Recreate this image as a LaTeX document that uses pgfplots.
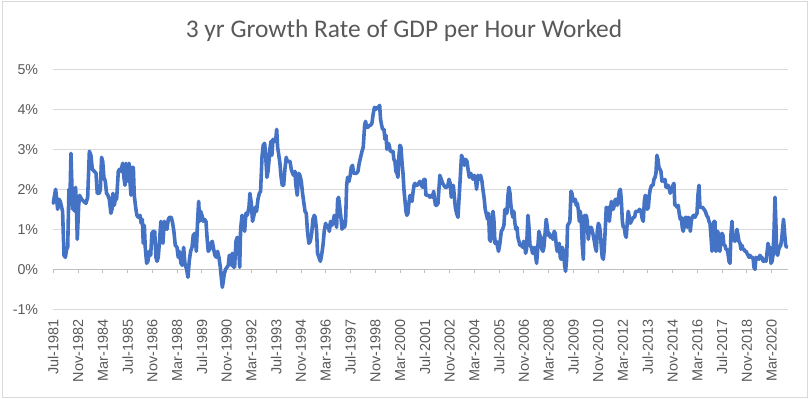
\documentclass[border=0pt]{standalone}
\usepackage{pgfplots}
\pgfplotsset{compat=1.18}
\usepackage{fontspec}
\setmainfont{Liberation Sans}
\newfontfamily\titlefont{Carlito}
\definecolor{linecol}{HTML}{4472C4}
\definecolor{gridcol}{HTML}{D9D9D9}
\definecolor{axcol}{HTML}{BFBFBF}
\definecolor{txtcol}{HTML}{595959}
\pgfplotstableread{
x y
0.0 1.65
0.6 1.8
1.5 2.0
2.2 1.75
2.8 1.5
3.7 1.75
4.5 1.7
5.4 1.55
6.0 1.45
6.9 0.35
7.8 0.3
8.6 0.5
9.3 0.55
10.1 2.0
10.8 1.85
11.4 2.9
12.1 2.0
12.5 1.5
13.1 2.0
13.8 1.45
14.4 2.05
14.9 1.6
15.5 0.75
16.4 1.6
17.0 1.85
18.3 1.75
19.6 1.7
21.1 1.65
22.2 1.8
23.3 2.95
24.3 2.85
25.2 2.5
26.5 2.45
27.6 2.4
28.4 1.9
29.7 1.9
30.4 2.0
31.2 2.8
31.9 2.7
32.7 2.3
33.6 2.2
34.4 1.9
35.3 1.85
36.2 1.75
37.2 1.4
37.9 1.5
38.5 1.9
39.4 1.6
40.3 1.8
40.9 1.75
42.0 2.45
42.8 2.5
43.7 2.45
44.8 2.65
45.6 2.3
46.3 2.1
46.9 2.65
47.6 2.4
48.2 2.2
48.9 2.65
49.5 2.2
50.2 1.85
50.8 2.55
51.7 2.55
52.3 1.85
53.2 1.55
54.0 1.35
54.9 1.3
56.0 1.35
56.8 1.15
57.5 1.25
58.1 0.65
58.8 1.1
59.4 0.55
60.3 0.15
61.1 0.2
62.0 0.45
62.9 0.35
63.7 0.9
64.6 0.95
65.5 0.95
66.3 0.3
67.0 0.2
67.8 0.3
68.5 0.65
69.5 1.2
70.2 0.9
70.8 0.65
71.7 1.2
72.6 1.05
73.4 1.0
74.3 1.25
75.1 1.3
76.2 1.3
77.1 1.15
77.9 0.95
78.8 0.6
79.9 0.55
80.7 0.3
81.4 0.45
82.5 0.15
83.3 0.1
84.2 0.55
85.0 0.15
86.1 0.0
87.0 -0.2
87.8 0.2
88.7 0.45
89.6 0.55
90.4 0.85
91.5 0.9
92.4 0.45
93.2 1.2
93.9 1.7
94.5 1.2
95.2 1.45
96.0 1.35
96.9 1.2
97.7 1.25
98.6 1.2
99.5 0.7
100.1 0.45
101.0 0.5
101.8 0.65
102.7 0.7
103.6 0.5
104.4 0.35
105.3 0.3
106.1 0.45
107.0 0.3
107.9 0.05
108.5 -0.2
109.2 -0.45
109.8 -0.3
110.5 -0.1
111.3 0.0
112.2 0.05
113.0 0.1
113.7 0.35
114.3 0.2
115.0 0.1
115.6 0.4
116.5 0.05
117.1 0.05
118.0 0.7
118.8 0.8
119.7 0.6
120.4 0.05
121.0 1.0
121.9 1.35
122.7 1.2
123.6 0.95
124.4 1.4
125.3 1.35
126.4 1.55
127.0 1.9
127.9 1.65
128.7 1.2
129.6 1.35
130.5 1.55
131.3 1.45
132.2 1.75
133.1 1.9
133.9 1.95
134.8 2.8
135.6 3.1
136.5 3.15
137.1 2.9
138.0 2.3
138.7 2.45
139.3 2.7
139.9 3.0
140.6 3.2
141.2 2.85
141.9 3.25
142.7 3.2
143.6 3.2
144.3 3.5
144.9 3.05
145.5 2.9
146.4 2.65
147.0 2.35
147.9 2.1
148.8 2.1
149.6 2.5
150.5 2.8
151.1 2.7
152.0 2.7
152.9 2.7
153.7 2.5
154.6 2.4
155.2 2.35
156.1 2.45
156.7 2.1
157.6 1.85
158.5 2.4
159.3 2.35
160.2 2.2
161.0 1.9
161.9 1.65
162.6 1.45
163.4 1.4
164.3 0.9
165.1 0.65
166.0 0.7
166.9 0.9
167.7 1.25
168.6 1.35
169.2 1.3
170.1 0.95
170.7 0.4
171.6 0.3
172.5 0.2
173.3 0.35
174.2 0.6
175.0 0.95
175.9 1.15
176.8 1.05
177.6 1.1
178.3 0.95
179.1 1.2
180.0 1.1
180.9 1.2
181.5 1.35
182.1 1.3
183.0 1.05
183.7 1.75
184.3 1.8
185.2 1.5
185.8 1.3
186.5 1.0
187.3 1.2
188.2 1.05
188.8 1.2
189.5 2.1
190.1 2.3
191.0 2.2
191.8 2.35
192.5 2.55
193.3 2.6
194.0 2.4
194.8 2.4
195.9 2.4
196.8 2.45
197.6 2.65
198.5 2.8
199.4 2.95
200.2 3.05
201.1 3.6
201.7 3.7
202.4 3.55
203.2 3.55
204.1 3.6
205.0 3.6
205.8 3.65
206.7 3.9
207.5 4.05
208.4 4.0
209.3 4.05
210.1 4.05
210.8 4.1
211.4 3.75
212.1 3.6
212.7 3.5
213.6 3.5
214.2 3.25
214.9 3.35
215.5 3.0
216.4 3.15
217.0 3.1
217.7 2.95
218.5 2.95
219.4 2.95
220.0 2.75
220.7 2.7
221.3 2.45
222.0 2.4
222.6 2.3
223.3 2.85
223.9 3.1
224.6 3.05
225.2 2.7
225.9 2.4
226.5 2.0
227.1 1.75
227.8 1.45
228.4 1.35
229.1 1.4
229.7 1.65
230.4 1.85
231.0 1.75
231.7 1.7
232.3 1.9
233.0 2.1
233.6 2.15
234.2 2.1
235.1 2.1
236.0 2.15
236.8 2.2
237.7 2.1
238.6 2.05
239.4 2.25
240.1 2.25
240.7 1.85
241.6 1.85
242.4 1.85
243.3 1.8
244.2 1.85
245.0 1.8
245.7 1.95
246.3 1.75
246.9 1.6
247.6 1.6
248.5 1.65
249.1 2.0
249.7 2.35
250.6 2.25
251.5 2.15
252.3 2.1
253.2 2.05
254.1 2.05
254.9 2.1
255.6 2.25
256.4 2.15
257.1 1.8
257.7 1.9
258.4 2.1
259.0 1.85
259.7 1.55
260.5 1.4
261.4 1.3
262.0 1.7
262.9 2.3
263.7 2.85
264.6 2.75
265.5 2.6
266.3 2.75
267.2 2.7
268.1 2.45
268.7 2.3
269.6 2.4
270.2 2.35
271.1 2.25
271.9 2.35
272.8 2.25
273.4 2.0
274.3 2.35
275.2 2.25
276.0 2.35
276.9 2.2
277.5 2.0
278.4 1.75
279.0 1.5
279.9 1.35
280.5 1.25
281.2 1.4
281.8 0.75
282.5 0.7
283.1 1.0
284.0 1.45
284.6 1.25
285.3 0.65
286.2 0.7
286.8 0.6
287.6 0.45
288.5 0.65
289.4 0.95
290.2 1.0
291.1 1.1
291.7 1.5
292.4 1.5
293.0 1.4
293.7 1.85
294.3 2.05
295.0 1.9
295.6 1.6
296.3 1.4
296.9 1.3
297.5 1.45
298.2 1.15
298.8 1.0
299.5 1.05
300.1 0.8
300.8 0.7
301.4 0.6
302.3 0.6
303.2 0.55
303.8 0.7
304.4 0.65
305.1 0.4
305.7 0.5
306.6 1.35
307.2 1.1
307.9 0.6
308.8 0.55
309.6 0.4
310.3 0.5
310.9 0.55
311.5 0.35
312.2 0.15
312.8 0.45
313.7 0.95
314.3 0.85
315.0 0.8
315.6 0.5
316.3 0.45
316.9 0.55
317.8 0.95
318.4 1.25
319.1 1.05
319.7 0.85
320.4 0.9
321.0 0.8
321.9 0.85
322.7 0.75
323.6 0.95
324.2 0.9
324.9 0.6
325.5 0.45
326.2 0.55
326.8 0.65
327.5 0.3
328.1 0.25
328.8 0.55
329.6 0.45
330.3 0.1
330.9 -0.05
331.6 0.25
332.2 1.1
333.1 1.15
333.7 1.2
334.4 1.95
335.0 1.9
335.7 1.75
336.3 1.7
337.2 1.75
337.8 1.6
338.5 1.65
339.1 1.5
339.8 1.2
340.4 1.45
341.1 1.2
341.7 0.6
342.4 0.25
343.0 1.35
343.7 0.95
344.3 1.35
344.9 1.2
345.6 0.75
346.2 0.95
346.9 1.05
347.5 1.05
348.2 0.95
348.8 0.85
349.5 0.7
350.1 0.55
350.8 0.45
351.4 0.95
352.1 1.15
352.7 1.1
353.3 0.95
354.0 0.55
354.6 0.3
355.3 0.25
355.9 0.5
356.6 1.05
357.2 1.55
357.9 1.5
358.5 1.55
359.2 1.2
359.8 1.45
360.5 1.7
361.1 1.5
361.7 1.5
362.4 1.6
363.0 1.75
363.7 1.75
364.3 1.6
365.0 1.75
365.6 1.95
366.3 2.0
366.9 1.75
367.6 1.2
368.2 1.05
368.9 1.05
369.5 0.85
370.1 0.8
370.8 1.2
371.4 1.45
372.1 1.3
372.7 1.15
373.4 1.2
374.0 1.25
374.7 1.3
375.5 1.3
376.2 1.45
377.0 1.45
377.9 1.45
378.7 1.5
379.6 1.45
380.5 1.25
381.1 1.2
381.8 1.7
382.4 1.85
383.1 1.8
383.7 1.5
384.4 1.55
385.0 1.85
385.6 2.0
386.5 2.1
387.4 2.1
388.0 2.25
388.7 2.3
389.3 2.4
389.9 2.85
390.6 2.75
391.2 2.55
392.5 2.45
393.2 2.2
393.8 2.25
394.5 2.2
395.1 2.25
395.8 2.05
396.4 2.05
397.1 2.1
397.7 2.05
398.5 1.9
399.4 2.0
400.3 2.1
400.9 2.15
401.5 1.6
402.2 1.6
403.0 1.55
403.7 1.6
404.3 1.4
405.0 1.25
405.6 1.3
406.3 1.05
406.9 0.95
407.6 1.1
408.2 1.3
408.9 1.3
409.5 1.05
410.2 1.3
410.8 1.25
411.5 0.95
412.1 1.2
412.7 1.3
413.6 1.35
414.5 1.3
415.1 1.35
415.8 1.4
416.4 1.85
417.1 2.1
417.7 1.55
418.6 1.55
419.4 1.55
420.3 1.5
421.2 1.45
422.0 1.35
422.9 1.3
423.5 1.2
424.2 1.15
424.8 0.85
425.5 0.45
426.1 0.8
426.8 1.2
427.4 1.2
428.0 0.45
428.7 0.5
429.3 0.95
430.0 0.5
430.6 0.45
431.3 0.75
431.9 0.9
432.6 0.85
433.2 0.6
433.9 0.6
434.5 0.5
435.2 0.5
435.8 0.4
436.5 0.2
437.1 0.15
437.8 0.9
438.4 1.2
439.0 0.75
439.7 0.75
440.3 0.7
441.0 0.75
441.6 1.0
442.3 0.85
442.9 0.7
443.6 0.65
444.2 0.5
444.9 0.6
445.5 0.5
446.2 0.5
446.8 0.45
447.5 0.45
448.1 0.4
448.8 0.35
449.4 0.3
450.0 0.35
450.7 0.3
451.3 0.3
452.0 0.3
452.6 0.05
453.3 0.0
453.9 0.3
454.6 0.25
455.2 0.3
455.9 0.25
456.5 0.35
457.2 0.3
457.8 0.3
458.5 0.2
459.1 0.2
459.7 0.25
460.4 0.2
461.0 0.4
461.7 0.65
462.3 0.5
463.0 0.55
463.6 0.15
464.3 0.2
464.9 0.35
465.6 1.0
466.2 1.8
466.9 1.0
467.3 0.4
467.9 0.35
468.6 0.5
469.2 0.55
469.9 0.6
470.5 0.75
471.1 1.0
471.7 1.25
472.4 0.9
473.1 0.6
473.7 0.55
}\gdpdata
\begin{document}
\begin{tikzpicture}
\useasboundingbox (-53.3bp,-89.7bp) rectangle (755.7bp,309.3bp);
\draw[gridcol, line width=0.8bp] (-51.3bp,-88.2bp) rectangle (753.7bp,308.3bp);
\begin{axis}[
  at={(0,0)}, anchor=south west,
  scale only axis, width=734.4bp, height=240bp,
  xmin=0, xmax=474.4, ymin=-1, ymax=5,
  axis line style={draw=none},
  xtick={0,16,...,464},
  xticklabels={Jul-1981,Nov-1982,Mar-1984,Jul-1985,Nov-1986,Mar-1988,Jul-1989,Nov-1990,Mar-1992,Jul-1993,Nov-1994,Mar-1996,Jul-1997,Nov-1998,Mar-2000,Jul-2001,Nov-2002,Mar-2004,Jul-2005,Nov-2006,Mar-2008,Jul-2009,Nov-2010,Mar-2012,Jul-2013,Nov-2014,Mar-2016,Jul-2017,Nov-2018,Mar-2020},
  ytick={-1,0,...,5},
  yticklabels={-1\%,0\%,1\%,2\%,3\%,4\%,5\%},
  xtick style={draw=none}, ytick style={draw=none},
  ymajorgrids, major grid style={gridcol, line width=0.9bp},
  xticklabel shift=10bp, yticklabel shift=15bp,
  x tick label style={rotate=90, anchor=east, inner sep=0pt, font=\fontsize{14.5}{16}\selectfont, text=txtcol},
  y tick label style={anchor=east, inner sep=0pt, font=\fontsize{14.3}{16}\selectfont, text=txtcol},
  clip=false,
]
\draw[axcol, line width=0.9bp] (axis cs:0,0) -- (axis cs:474.4,0);
\pgfplotsinvokeforeach{0,16,...,464}{\draw[axcol, line width=0.9bp] (axis cs:#1,0) -- ([yshift=-4bp]axis cs:#1,0);}
\addplot[linecol, line width=3.6bp, line join=round, line cap=round, mark=none] table[x=x, y=y] {\gdpdata};
\end{axis}
\node[anchor=base, text=txtcol, font=\titlefont\fontsize{25.5}{28}\selectfont, inner sep=0pt] at (350.7bp,271.3bp) {3 yr Growth Rate of GDP per Hour Worked};
\end{tikzpicture}
\end{document}
